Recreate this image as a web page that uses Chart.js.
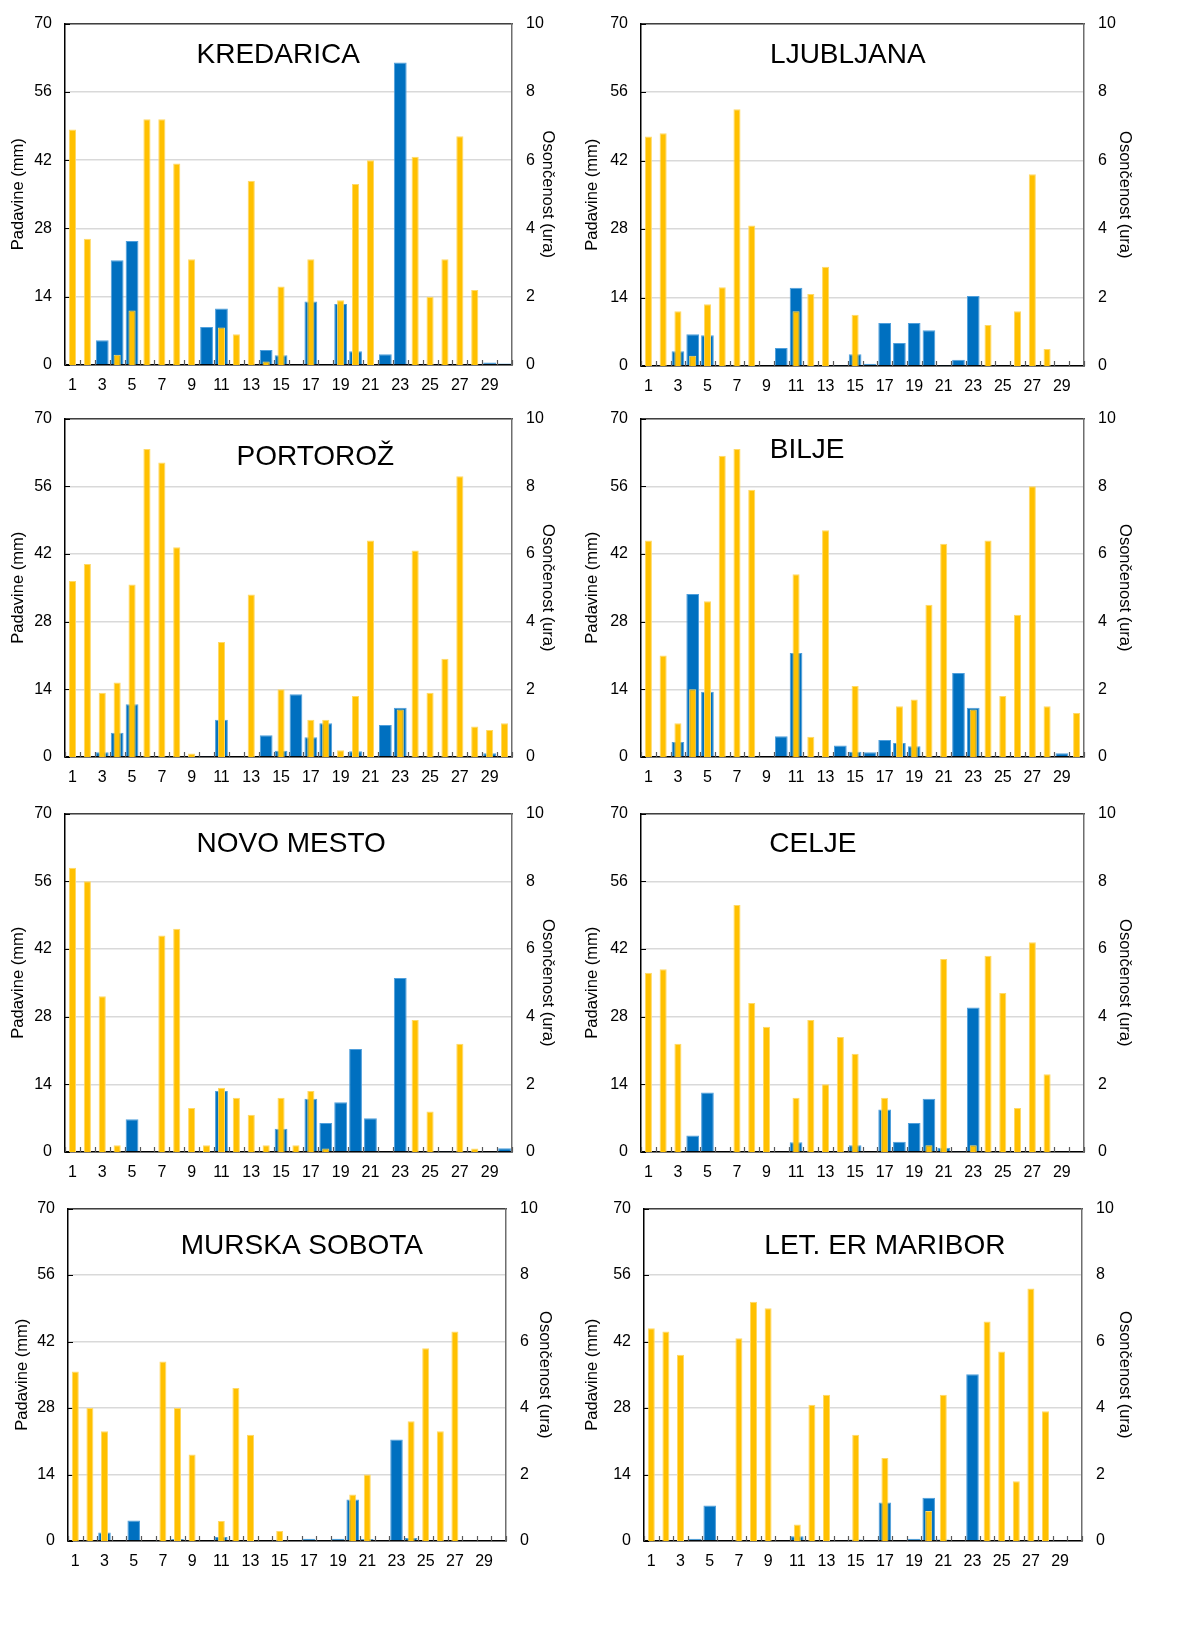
<!DOCTYPE html>
<html>
<head>
<meta charset="utf-8">
<script src="https://cdn.jsdelivr.net/npm/chart.js@4.4.1/dist/chart.umd.min.js"></script>
<style>
  html, body { margin: 0; padding: 0; background: #ffffff; }
  body { width: 1191px; height: 1647px; position: relative; overflow: hidden; }
  .panel { position: absolute; }
  .panel canvas { display: block; }
</style>
</head>
<body>
<script>
// ---------- DATA ----------
const days = ['1','2','3','4','5','6','7','8','9','10','11','12','13','14','15','16','17','18','19','20','21','22','23','24','25','26','27','28','29','30'];
const leftTicks = [0, 14, 28, 42, 56, 70];
const rightTicks = [0, 2, 4, 6, 8, 10];

const stationNames = ['KREDARICA', 'LJUBLJANA', 'PORTOROŽ', 'BILJE', 'NOVO MESTO', 'CELJE', 'MURSKA SOBOTA', 'LET. ER MARIBOR'];

// Padavine (mm)
const kredaricaPadavine = [0,0,5.1,21.5,25.4,0,0,0,0,7.8,11.6,0,0,3.1,2.0,0,13.0,0,12.5,2.8,0,2.2,62.0,0,0,0,0,0,0.5,0.3];
const ljubljanaPadavine = [0,0,3.0,6.5,6.3,0,0,0,0,3.7,16.0,0,0,0.1,2.4,0.45,8.8,4.7,8.8,7.3,0.1,1.3,14.3,0,0,0,0,0,0,0];
const portorozPadavine  = [0,0,1.0,5.0,10.9,0,0,0,0,0.2,7.7,0,0,4.5,1.3,13.0,4.1,7.0,0,1.2,0,6.6,10.2,0,0,0,0,0,0.8,0];
const biljePadavine     = [0,0,3.1,33.7,13.5,0,0,0,0,4.3,21.5,0,0,2.4,1.1,1.0,3.5,2.9,2.2,0,0,17.4,10.2,0,0,0,0,0,0.8,0];
const novoMestoPadavine = [0,0,0,0,6.8,0,0,0,0,0.2,12.6,0,0,0,4.8,0,11.0,6.0,10.3,21.3,7.0,0,36.0,0,0,0.2,0,0,0,0.8];
const celjePadavine     = [0,0,0,3.4,12.3,0,0,0,0,0,2.0,0,0,0,1.4,0,8.8,2.1,6.0,11.0,0.9,0.2,29.9,0,0,0,0,0,0,0];
const murskaPadavine    = [0,0,1.8,0,4.3,0,0,0.4,0,0,0.85,0,0,0,0.2,0,0.45,0,0.45,8.75,0.4,0,21.4,0.65,0,0,0,0,0,0];
const mariborPadavine   = [0,0,0,0.45,7.5,0,0,0,0,0,1.0,0,0,0,0.3,0,8.1,0,0.45,9.1,0.3,0.15,35.1,0,0,0,0,0,0,0.15];

// Osončenost (ura)
const kredaricaSonce = [6.9,3.7,0,0.3,1.6,7.2,7.2,5.9,3.1,0,1.1,0.9,5.4,0.1,2.3,0,3.1,0,1.9,5.3,6.0,0,0,6.1,2.0,3.1,6.7,2.2,0,0];
const ljubljanaSonce = [6.7,6.8,1.6,0.3,1.8,2.3,7.5,4.1,0,0,1.6,2.1,2.9,0,1.5,0,0,0,0,0,0,0,0,1.2,0,1.6,5.6,0.5,0,0];
const portorozSonce  = [5.2,5.7,1.9,2.2,5.1,9.1,8.7,6.2,0.1,0,3.4,0,4.8,0,2.0,0,1.1,1.1,0.2,1.8,6.4,0,1.4,6.1,1.9,2.9,8.3,0.9,0.8,1.0];
const biljeSonce     = [6.4,3.0,1.0,2.0,4.6,8.9,9.1,7.9,0,0,5.4,0.6,6.7,0,2.1,0,0,1.5,1.7,4.5,6.3,0,1.4,6.4,1.8,4.2,8.0,1.5,0,1.3];
const novoMestoSonce = [8.4,8.0,4.6,0.2,0,0,6.4,6.6,1.3,0.2,1.9,1.6,1.1,0.2,1.6,0.2,1.8,0.1,0,0,0,0,0,3.9,1.2,0,3.2,0.1,0,0];
const celjeSonce     = [5.3,5.4,3.2,0,0,0,7.3,4.4,3.7,0,1.6,3.9,2.0,3.4,2.9,0,1.6,0,0,0.2,5.7,0,0.2,5.8,4.7,1.3,6.2,2.3,0,0];
const murskaSonce    = [5.1,4.0,3.3,0,0,0,5.4,4.0,2.6,0,0.6,4.6,3.2,0,0.3,0,0,0,0,1.4,2.0,0,0,3.6,5.8,3.3,6.3,0,0,0];
const mariborSonce   = [6.4,6.3,5.6,0,0,0,6.1,7.2,7.0,0,0.5,4.1,4.4,0,3.2,0,2.5,0,0,0.9,4.4,0,0,6.6,5.7,1.8,7.6,3.9,0,0];

const padavineSeries = [kredaricaPadavine, ljubljanaPadavine, portorozPadavine, biljePadavine, novoMestoPadavine, celjePadavine, murskaPadavine, mariborPadavine];
const sonceSeries = [kredaricaSonce, ljubljanaSonce, portorozSonce, biljeSonce, novoMestoSonce, celjeSonce, murskaSonce, mariborSonce];

// ---------- LAYOUT (page pixels) ----------
const panelLayout = [
  {cx:0,   cy:0,    cw:570, ch:395, L:65,  R:512,  T:19,   B:365,  lt:18,  rt:548,  fx:0.477, dy:32},
  {cx:570, cy:0,    cw:621, ch:395, L:641, R:1084, T:19,   B:366,  lt:592, rt:1125, fx:0.467, dy:32},
  {cx:0,   cy:395,  cw:570, ch:395, L:65,  R:512,  T:413,  B:757,  lt:18,  rt:548,  fx:0.56,  dy:39},
  {cx:570, cy:395,  cw:621, ch:395, L:641, R:1084, T:413,  B:757,  lt:592, rt:1125, fx:0.375, dy:32},
  {cx:0,   cy:790,  cw:570, ch:395, L:65,  R:512,  T:808,  B:1152, lt:18,  rt:548,  fx:0.506, dy:31},
  {cx:570, cy:790,  cw:621, ch:395, L:641, R:1084, T:808,  B:1152, lt:592, rt:1125, fx:0.388, dy:31},
  {cx:0,   cy:1185, cw:570, ch:462, L:68,  R:506,  T:1202, B:1541, lt:22,  rt:545,  fx:0.534, dy:38},
  {cx:570, cy:1185, cw:621, ch:462, L:644, R:1082, T:1202, B:1541, lt:592, rt:1125, fx:0.55,  dy:38}
];

const BLUE = '#0070C0';
const BLUE_EDGE = '#4f9fdc';
const YELLOW = '#FFC000';
const YELLOW_EDGE = '#ffd966';
const FONT = '"Liberation Sans", Arial, sans-serif';
const TITLE_SIZE = 16.5;

const decorPlugin = {
  id: 'decor',
  beforeDatasetsDraw(chart) {
    const {ctx, chartArea, scales} = chart;
    const x = scales.x, y = scales.y;
    ctx.save();
    ctx.strokeStyle = '#595959';
    ctx.lineWidth = 1.2;
    ctx.beginPath();
    const n = x.max - x.min + 1;
    for (let i = 0; i <= n; i++) {
      const px = Math.round(x.getPixelForValue(x.min + i - 0.5)) + 0.5;
      ctx.moveTo(px, chartArea.bottom);
      ctx.lineTo(px, chartArea.bottom - 5);
    }
    ctx.stroke();
    ctx.strokeStyle = '#000';
    ctx.beginPath();
    y.ticks.forEach(t => {
      const py = Math.round(y.getPixelForValue(t.value)) + 0.5;
      ctx.moveTo(chartArea.left, py);
      ctx.lineTo(chartArea.left + 5, py);
    });
    ctx.stroke();
    ctx.restore();
  },
  afterDatasetsDraw(chart, args, opts) {
    const {ctx, chartArea} = chart;
    ctx.save();
    ctx.fillStyle = '#000';
    ctx.font = '28px ' + FONT;
    ctx.textAlign = 'center';
    ctx.textBaseline = 'middle';
    ctx.fillText(opts.text, chartArea.left + opts.fx * (chartArea.right - chartArea.left), chartArea.top + opts.dy);
    ctx.restore();
  }
};

panelLayout.forEach((p, idx) => {
  const div = document.createElement('div');
  div.className = 'panel';
  div.style.left = p.cx + 'px';
  div.style.top = p.cy + 'px';
  div.style.width = p.cw + 'px';
  div.style.height = p.ch + 'px';
  const cv = document.createElement('canvas');
  cv.width = p.cw; cv.height = p.ch;
  cv.style.width = p.cw + 'px'; cv.style.height = p.ch + 'px';
  div.appendChild(cv);
  document.body.appendChild(div);

  const leftW = p.L - p.cx;
  const rightW = p.cx + p.cw - p.R;
  const topH = p.T - p.cy;
  const bottomH = p.cy + p.ch - p.B;
  const lhHalf = TITLE_SIZE * 1.2 / 2;

  new Chart(cv, {
    type: 'bar',
    data: {
      labels: days,
      datasets: [
        {
          label: 'Osončenost (ura)',
          data: sonceSeries[idx],
          yAxisID: 'y2',
          backgroundColor: YELLOW,
          borderColor: YELLOW_EDGE,
          borderWidth: 1,
          grouped: false,
          barPercentage: 0.48,
          categoryPercentage: 1.0,
          order: 0
        },
        {
          label: 'Padavine (mm)',
          data: padavineSeries[idx],
          yAxisID: 'y',
          backgroundColor: BLUE,
          borderColor: BLUE_EDGE,
          borderWidth: 1,
          grouped: false,
          barPercentage: 0.86,
          categoryPercentage: 1.0,
          order: 1
        }
      ]
    },
    options: {
      responsive: false,
      animation: false,
      devicePixelRatio: 1,
      layout: { padding: 0 },
      plugins: {
        legend: { display: false },
        tooltip: { enabled: false },
        title: { display: false },
        decor: { text: stationNames[idx], fx: p.fx, dy: p.dy }
      },
      scales: {
        x: {
          type: 'category',
          position: 'bottom',
          offset: true,
          grid: { display: false, drawTicks: false },
          border: { display: true, color: '#000', width: 1.5 },
          ticks: {
            autoSkip: false, maxRotation: 0, minRotation: 0, padding: 11,
            color: '#000', font: { family: FONT, size: 16 },
            callback: (v, i) => (i % 2 === 0 ? days[i] : '')
          },
          afterFit: s => { s.height = bottomH; }
        },
        xt: {
          type: 'category',
          position: 'top',
          labels: days,
          offset: true,
          grid: { display: false, drawTicks: false },
          border: { display: true, color: '#404040', width: 1.5 },
          ticks: { display: false },
          afterFit: s => { s.height = topH; }
        },
        y: {
          type: 'linear',
          position: 'left',
          min: 0, max: 70,
          afterBuildTicks: s => { s.ticks = leftTicks.map(v => ({value: v})); },
          grid: { display: true, color: '#d9d9d9', lineWidth: 1.5, drawTicks: false },
          border: { display: true, color: '#000', width: 1.5 },
          ticks: { padding: 13, color: '#000', font: { family: FONT, size: 16 } },
          title: {
            display: true, text: 'Padavine (mm)', color: '#000',
            font: { family: FONT, size: TITLE_SIZE },
            padding: { top: (p.lt - p.cx) - lhHalf, bottom: 0 }
          },
          afterFit: s => { s.width = leftW; }
        },
        y2: {
          type: 'linear',
          position: 'right',
          min: 0, max: 10,
          afterBuildTicks: s => { s.ticks = rightTicks.map(v => ({value: v})); },
          grid: { display: false, drawTicks: false },
          border: { display: true, color: '#6e6e6e', width: 1.5 },
          ticks: { padding: 14, color: '#000', font: { family: FONT, size: 16 } },
          title: {
            display: true, text: 'Osončenost (ura)', color: '#000',
            font: { family: FONT, size: TITLE_SIZE },
            padding: { top: (p.cx + p.cw - p.rt) - lhHalf, bottom: 0 }
          },
          afterFit: s => { s.width = rightW; }
        }
      }
    },
    plugins: [decorPlugin]
  });
});
</script>
</body>
</html>
